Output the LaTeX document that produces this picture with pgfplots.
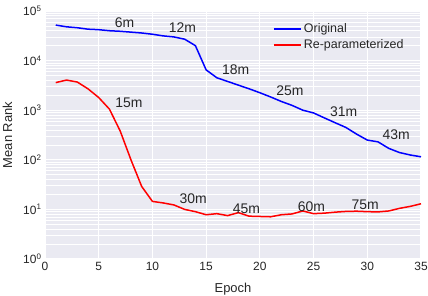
\documentclass[border=0pt]{standalone}
\usepackage{pgfplots}
\pgfplotsset{compat=1.18}
\usepackage{fontspec}
\setmainfont{Liberation Sans}
\definecolor{bggray}{HTML}{EAEAF2}
\definecolor{txt}{HTML}{262626}
\pgfplotstableread{
epoch orig
1 52000
2 48000
3 46000
4 43000
5 42000
6 40000
7 39000
8 37500
9 36000
10 34000
11 31500
12 30000
13 27000
14 20000
15 6500
16 4500
17 3800
18 3200
19 2700
20 2250
21 1850
22 1500
23 1250
24 1000
25 880
26 700
27 560
28 450
29 330
30 250
31 230
32 170
33 140
34 125
35 115
}\origtable
\pgfplotstableread{
epoch rep
1 3600
2 4050
3 3700
4 2700
5 1800
6 1050
7 380
8 100
9 29
10 14.5
11 13.5
12 12.3
13 10
14 9
15 7.8
16 8.2
17 7.5
18 8.6
19 7.3
20 7.2
21 7.1
22 7.8
23 8.1
24 9.3
25 8.2
26 8.4
27 8.8
28 9.1
29 9.2
30 9.0
31 8.9
32 9.3
33 10.5
34 11.5
35 13
}\reptable
\begin{document}
\begin{tikzpicture}
\begin{axis}[
  scale only axis, width=376bp, height=248bp,
  ymode=log, xmin=0, xmax=35, ymin=1, ymax=100000,
  xtick={0,5,...,35},
  ytick={1,10,100,1000,10000,100000},
  yticklabels={10\textsuperscript{0},10\textsuperscript{1},10\textsuperscript{2},10\textsuperscript{3},10\textsuperscript{4},10\textsuperscript{5}},
  /pgf/number format/assume math mode=true,
  axis background/.style={fill=bggray},
  grid=both,
  major grid style={white, line width=1.2bp},
  minor grid style={white, line width=0.7bp},
  axis line style={draw=none},
  major tick length=0pt, minor tick length=0pt,
  tick label style={font=\fontsize{12}{14}\selectfont, text=txt},
  xlabel={Epoch}, ylabel={Mean Rank},
  every axis x label/.style={at={(axis description cs:0.5,0)}, anchor=base, yshift=-33bp, font=\fontsize{13}{15}\selectfont, text=txt},
  every axis y label/.style={at={(axis description cs:-0.0997,0.5)}, anchor=center, rotate=90, font=\fontsize{13}{15}\selectfont, text=txt},
  legend style={font=\fontsize{12.5}{15}\selectfont, text=txt, draw=none, fill=none,
    at={(axis description cs:0.598,0.965)}, anchor=north west, row sep=1bp},
  legend cell align=left,
  legend image code/.code={\draw[#1, line width=1.9bp] (0bp,0bp) -- (27bp,0bp);},
]
\addplot[blue, line width=1.5bp] table[x=epoch, y=orig] {\origtable};
\addlegendentry{Original}
\addplot[red, line width=1.5bp] table[x=epoch, y=rep] {\reptable};
\addlegendentry{Re-parameterized}
\begin{scope}[every node/.style={font=\fontsize{14}{16}\selectfont, text=txt}]
\node at (axis cs:7.4,57300) {6m};
\node at (axis cs:12.8,45400) {12m};
\node at (axis cs:7.82,1397) {15m};
\node at (axis cs:17.74,6460) {18m};
\node at (axis cs:22.8,2440) {25m};
\node at (axis cs:27.8,920) {31m};
\node at (axis cs:32.7,316) {43m};
\node at (axis cs:13.8,16.2) {30m};
\node at (axis cs:18.76,10.2) {45m};
\node at (axis cs:24.8,11.2) {60m};
\node at (axis cs:29.8,12.3) {75m};
\end{scope}
\end{axis}
\pgfresetboundingbox
\path[use as bounding box] (-45bp,-37bp) rectangle (383bp,259bp);
\end{tikzpicture}
\end{document}
